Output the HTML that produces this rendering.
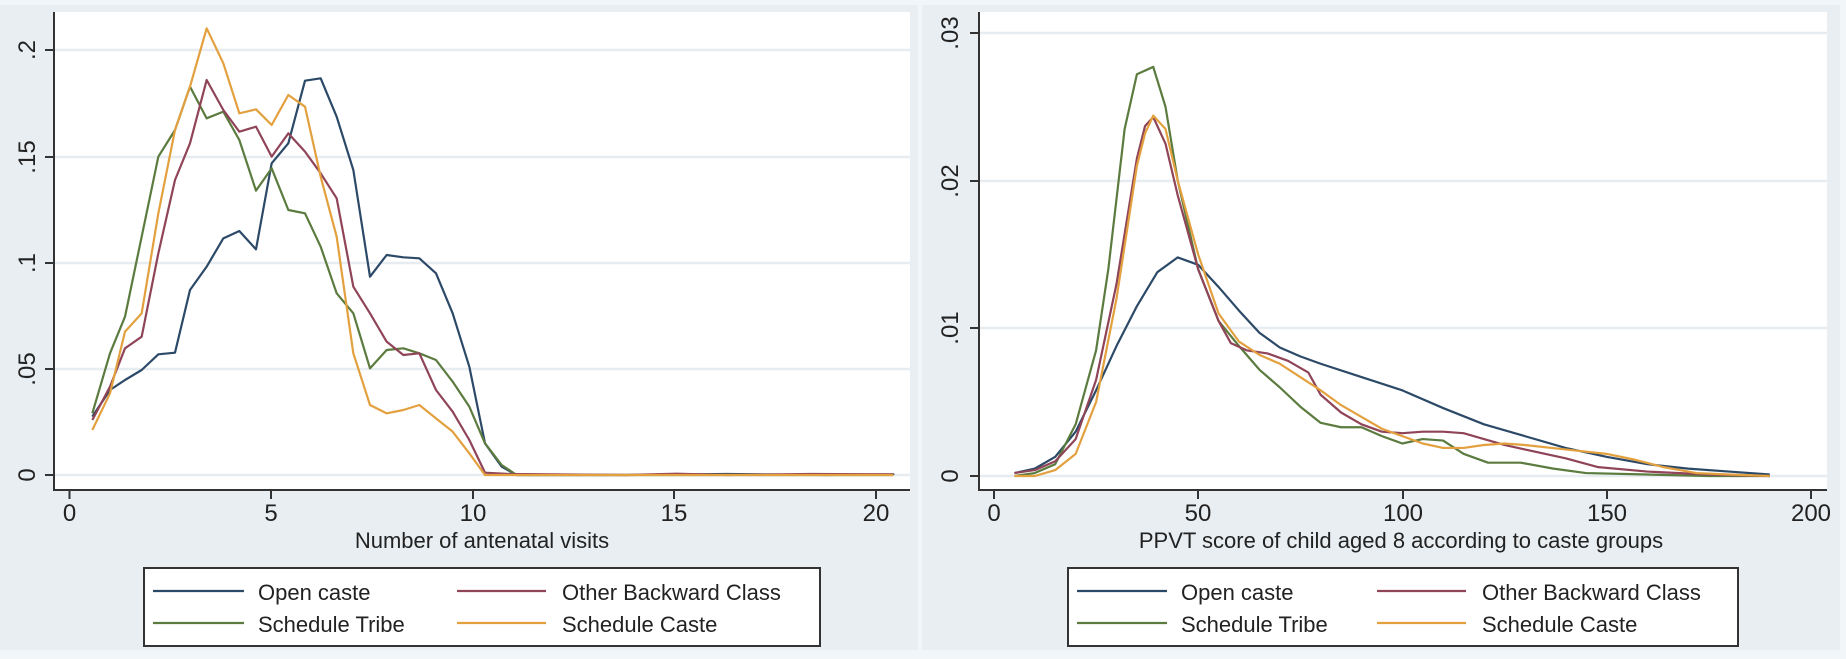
<!DOCTYPE html>
<html><head><meta charset="utf-8"><style>
html,body{margin:0;padding:0;background:#f3f6f8;}
svg{display:block;font-family:"Liberation Sans",Arial,sans-serif;}
.s{fill:none;stroke-width:2.2;stroke-linejoin:round;vector-effect:non-scaling-stroke;}
.b{stroke:#2c4a68}.r{stroke:#8f4458}.g{stroke:#5b7b3f}.o{stroke:#e3a03e}
.grid{stroke:#e6ecf0;stroke-width:2.5}
.ax{stroke:#333;stroke-width:2;fill:none}
text{fill:#222}
</style></head><body>
<svg width="1846" height="659" viewBox="0 0 1846 659">
<rect x="0" y="5" width="918" height="645" fill="#e8eef2"/>
<rect x="922" y="5" width="918" height="645" fill="#e8eef2"/>
<!-- LEFT PANEL -->
<rect x="54" y="12" width="856" height="478" fill="#fff"/>
<g class="grid"><line x1="54" x2="910" y1="475" y2="475"/><line x1="54" x2="910" y1="369" y2="369"/><line x1="54" x2="910" y1="263" y2="263"/><line x1="54" x2="910" y1="157" y2="157"/><line x1="54" x2="910" y1="50" y2="50"/></g>
<path class="ax" d="M54,12V490H910 M45,475H54 M45,369H54 M45,263H54 M45,157H54 M45,50H54 M69.5,490V499 M271,490V499 M473,490V499 M674,490V499 M876,490V499"/>
<g font-size="24" text-anchor="middle">
<text transform="translate(35,475) rotate(-90)">0</text>
<text transform="translate(35,369) rotate(-90)">.05</text>
<text transform="translate(35,263) rotate(-90)">.1</text>
<text transform="translate(35,157) rotate(-90)">.15</text>
<text transform="translate(35,50) rotate(-90)">.2</text>
<text x="69.5" y="521">0</text><text x="271" y="521">5</text><text x="473" y="521">10</text><text x="674" y="521">15</text><text x="876" y="521">20</text>
</g>
<text x="482" y="548" font-size="22" text-anchor="middle">Number of antenatal visits</text>
<g transform="translate(60,20) scale(0.33333)">
<polyline class="s b" points="97,1190 150,1110 195,1080 245,1050 295,1003 345,998 390,810 440,740 490,655 538,633 588,688 635,430 685,370 735,182 782,175 830,290 880,450 930,770 980,705 1030,712 1078,715 1128,760 1178,880 1228,1040 1275,1270 1325,1340 1370,1365 1700,1365 2000,1362 2300,1365 2500,1363 2500,1365"/>
<polyline class="s g" points="97,1180 150,1000 195,890 245,650 295,410 345,330 390,200 440,295 490,275 538,360 588,512 635,445 685,570 735,580 782,680 830,820 880,880 930,1045 980,990 1030,985 1078,1000 1128,1020 1178,1085 1228,1160 1275,1270 1325,1335 1370,1365 2500,1365"/>
<polyline class="s r" points="97,1200 150,1100 195,985 245,950 295,700 345,480 390,370 440,180 490,270 538,335 588,320 635,410 685,340 735,395 782,460 830,535 880,800 930,880 980,965 1030,1005 1078,1000 1128,1110 1178,1175 1228,1260 1275,1358 1350,1362 1700,1365 1850,1361 2000,1365 2250,1362 2500,1363"/>
<polyline class="s o" points="97,1230 150,1120 195,935 245,880 295,580 345,330 390,200 440,25 490,130 538,280 588,268 635,315 685,225 735,260 782,470 830,650 880,1000 930,1155 980,1180 1030,1170 1078,1155 1128,1195 1178,1235 1228,1300 1275,1365 2500,1365"/>
</g>
<rect x="144" y="568" width="676" height="78" fill="#fff" stroke="#333" stroke-width="2"/>
<line x1="153" x2="244" y1="591" y2="591" class="s b"/><line x1="153" x2="244" y1="623" y2="623" class="s g"/>
<line x1="457" x2="546" y1="591" y2="591" class="s r"/><line x1="457" x2="546" y1="623" y2="623" class="s o"/>
<g font-size="22"><text x="258" y="600">Open caste</text><text x="258" y="632">Schedule Tribe</text><text x="562" y="600">Other Backward Class</text><text x="562" y="632">Schedule Caste</text></g>
<!-- RIGHT PANEL -->
<rect x="979" y="12" width="848" height="478" fill="#fff"/>
<g class="grid"><line x1="979" x2="1827" y1="476" y2="476"/><line x1="979" x2="1827" y1="328" y2="328"/><line x1="979" x2="1827" y1="181" y2="181"/><line x1="979" x2="1827" y1="33" y2="33"/></g>
<path class="ax" d="M979,12V490H1827 M970,476H979 M970,328H979 M970,181H979 M970,33H979 M994,490V499 M1198,490V499 M1403,490V499 M1607,490V499 M1811,490V499"/>
<g font-size="24" text-anchor="middle">
<text transform="translate(958,476) rotate(-90)">0</text>
<text transform="translate(958,328) rotate(-90)">.01</text>
<text transform="translate(958,181) rotate(-90)">.02</text>
<text transform="translate(958,33) rotate(-90)">.03</text>
<text x="994" y="521">0</text><text x="1198" y="521">50</text><text x="1403" y="521">100</text><text x="1607" y="521">150</text><text x="1811" y="521">200</text>
</g>
<text x="1401" y="548" font-size="22" text-anchor="middle">PPVT score of child aged 8 according to caste groups</text>
<g transform="matrix(4.083,0,0,-14770,994,476)">
<polyline class="s b" points="5,.0002 10,.0005 15,.0013 20,.003 25,.0058 30,.0088 35,.0115 40,.0138 45,.0148 50,.0143 55,.0128 60,.0112 65,.0097 70,.0087 75,.0081 80,.0076 90,.0067 100,.0058 110,.0046 120,.0035 130,.0027 140,.0019 150,.0013 160,.0008 170,.0005 180,.0003 190,.0001"/>
<polyline class="s g" points="5,0 10,.0002 15,.0008 20,.0035 25,.0085 28,.014 32,.0235 35,.0272 39,.0277 42,.025 45,.02 50,.014 55,.0105 60,.0088 65,.0072 70,.006 75,.0047 80,.0036 85,.0033 90,.0033 95,.0027 100,.0022 105,.0025 110,.0024 115,.0015 121,.0009 129,.0009 137,.0005 145,.0002 160,.0001 175,0 190,0"/>
<polyline class="s r" points="5,.0002 10,.0004 15,.001 20,.0025 25,.0065 30,.013 35,.0215 37,.0237 39,.0243 42,.0225 45,.019 50,.014 55,.0105 58,.009 62,.0085 67,.0083 72,.0078 77,.007 80,.0055 85,.0043 90,.0035 95,.003 100,.0029 105,.003 110,.003 115,.0029 120,.0025 125,.0021 130,.0018 140,.0012 148,.0006 160,.0003 175,.0001 190,0"/>
<polyline class="s o" points="5,0 10,0 15,.0004 20,.0015 25,.005 30,.012 35,.021 37,.0232 39,.0244 42,.0235 45,.02 50,.015 55,.011 60,.0091 65,.0082 70,.0076 75,.0067 80,.0058 85,.0048 90,.004 95,.0032 100,.0027 105,.0022 110,.0019 115,.0019 120,.0021 125,.0022 130,.0021 140,.0018 150,.0015 157,.0011 164,.0006 172,.0002 180,.0001 190,0"/>
</g>
<rect x="1068" y="568" width="670" height="78" fill="#fff" stroke="#333" stroke-width="2"/>
<line x1="1077" x2="1167" y1="591" y2="591" class="s b"/><line x1="1077" x2="1167" y1="623" y2="623" class="s g"/>
<line x1="1377" x2="1466" y1="591" y2="591" class="s r"/><line x1="1377" x2="1466" y1="623" y2="623" class="s o"/>
<g font-size="22"><text x="1181" y="600">Open caste</text><text x="1181" y="632">Schedule Tribe</text><text x="1482" y="600">Other Backward Class</text><text x="1482" y="632">Schedule Caste</text></g>
</svg>
</body></html>
